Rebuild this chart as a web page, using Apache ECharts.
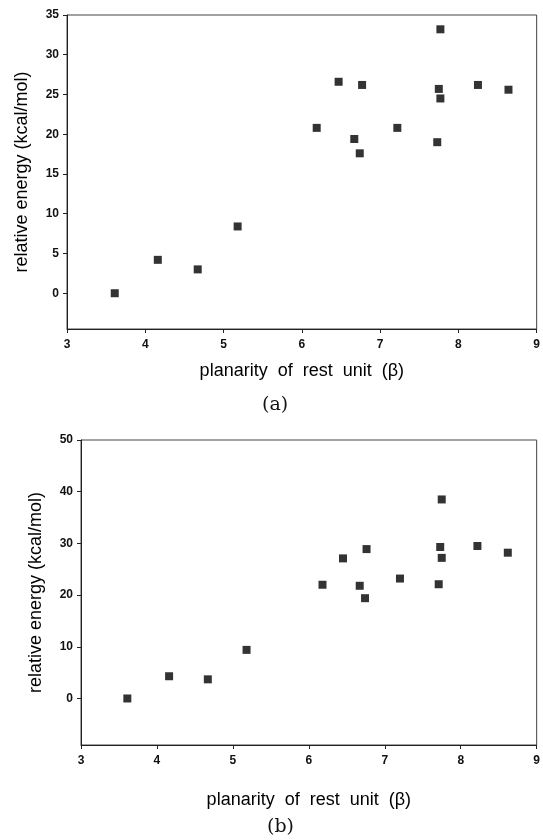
<!DOCTYPE html>
<html>
<head>
<meta charset="utf-8">
<script src="https://cdn.jsdelivr.net/npm/echarts@6/dist/echarts.min.js"></script>
<style>
html,body{margin:0;padding:0;background:#fff;}
#chart{width:543px;height:840px;}
</style>
</head>
<body>
<div id="chart"></div>
<script>
// Panel (a)
const xA = [3.61, 4.16, 4.67, 5.18, 6.19, 6.47, 6.67, 6.74, 6.77, 7.22, 7.73, 7.75, 7.77, 7.77, 8.25, 8.64];
const yA = [0.0, 4.2, 3.0, 8.4, 20.8, 26.6, 19.4, 17.6, 26.2, 20.8, 19.0, 25.7, 24.5, 33.2, 26.2, 25.6];
// Panel (b)
const xB = [3.61, 4.16, 4.67, 5.18, 6.18, 6.45, 6.67, 6.74, 6.76, 7.20, 7.71, 7.73, 7.75, 7.75, 8.22, 8.62];
const yB = [0.0, 4.3, 3.7, 9.4, 22.0, 27.1, 21.8, 19.4, 28.9, 23.2, 22.1, 29.3, 27.2, 38.5, 29.5, 28.2];
const yTicksA = [0, 5, 10, 15, 20, 25, 30, 35];
const yTicksB = [0, 10, 20, 30, 40, 50];
const xTitle = 'planarity  of  rest  unit  (β)';
const yTitle = 'relative energy (kcal/mol)';

const toPairs = (xs, ys) => xs.map((x, i) => [x, ys[i]]);

const labelStyle = { fontFamily: 'Liberation Sans, Arial', fontSize: 12, fontWeight: 'bold', color: '#111' };
const nameStyle = { fontFamily: 'Liberation Sans, Arial', fontSize: 18, color: '#000' };

function xAxis(gridIndex, nameGap) {
  return {
    type: 'value', gridIndex, min: 3, max: 9, interval: 1,
    name: xTitle, nameLocation: 'middle', nameGap, nameTextStyle: nameStyle,
    axisLine: { onZero: false, lineStyle: { color: '#222', width: 1 } },
    axisTick: { show: true, inside: false, length: 4, lineStyle: { color: '#222' } },
    axisLabel: Object.assign({ margin: 10 }, labelStyle),
    splitLine: { show: false }
  };
}
function yAxis(gridIndex, min, max, ticks, nameGap) {
  return {
    type: 'value', gridIndex, min, max,
    name: yTitle, nameLocation: 'middle', nameGap, nameTextStyle: nameStyle,
    axisLine: { show: true, onZero: false, lineStyle: { color: '#222', width: 1 } },
    axisTick: { show: true, length: 4, customValues: ticks, lineStyle: { color: '#222' } },
    axisLabel: Object.assign({ margin: 8, customValues: ticks }, labelStyle),
    splitLine: { show: false }
  };
}

const chart = echarts.init(document.getElementById('chart'), null, { renderer: 'canvas' });
chart.setOption({
  backgroundColor: '#fff',
  animation: false,
  grid: [
    { left: 67, top: 15, right: 4, bottom: 511, show: true, borderColor: '#444', borderWidth: 1, backgroundColor: 'transparent' },
    { left: 81, top: 440, right: 1, bottom: 95, show: true, borderColor: '#444', borderWidth: 1, backgroundColor: 'transparent' }
  ],
  xAxis: [xAxis(0, 33), xAxis(1, 46)],
  yAxis: [yAxis(0, -4.5, 35, yTicksA, 36), yAxis(1, -9, 50, yTicksB, 36)],
  series: [
    { type: 'scatter', xAxisIndex: 0, yAxisIndex: 0, symbol: 'rect', symbolSize: 8,
      itemStyle: { color: '#000' }, data: toPairs(xA, yA) },
    { type: 'scatter', xAxisIndex: 1, yAxisIndex: 1, symbol: 'rect', symbolSize: 8,
      itemStyle: { color: '#000' }, data: toPairs(xB, yB) }
  ],
  graphic: [
    { type: 'text', left: 262, top: 396, style: { text: '(a)', font: '19px "DejaVu Serif", serif', fill: '#111' } },
    { type: 'text', left: 267, top: 818, style: { text: '(b)', font: '19px "DejaVu Serif", serif', fill: '#111' } }
  ]
});
</script>
</body>
</html>
